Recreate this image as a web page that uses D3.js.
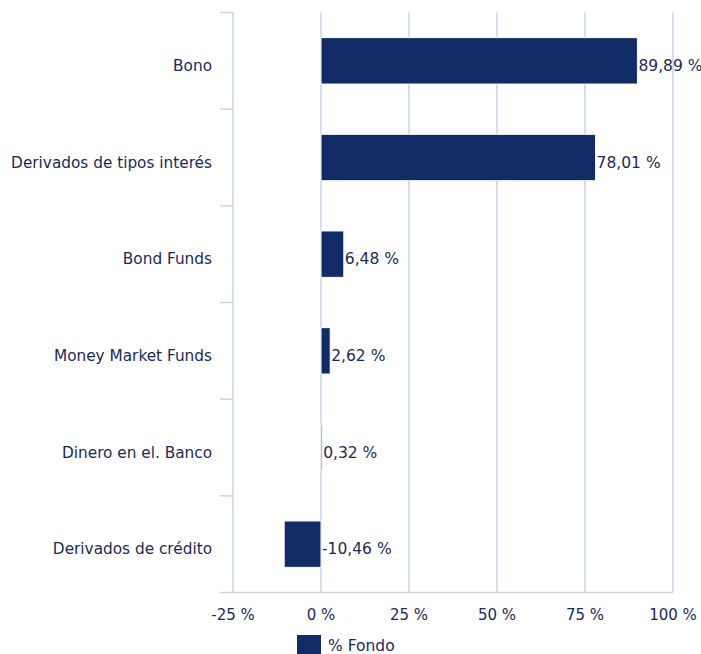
<!DOCTYPE html>
<html>
<head>
<meta charset="utf-8">
<script src="https://cdn.jsdelivr.net/npm/d3@7"></script>
<style>
  html, body { margin: 0; padding: 0; background: #fff; }
  svg { display: block; }
  text { font-family: "DejaVu Sans", Verdana, sans-serif; fill: #1b2a57; }
</style>
</head>
<body>
<svg id="chart" width="701" height="654"></svg>
<script>
/* ── Data ─────────────────────────────────────────────── */
const categories = ["Bono", "Derivados de tipos interés", "Bond Funds",
                    "Money Market Funds", "Dinero en el. Banco", "Derivados de crédito"];
const values = [89.89, 78.01, 6.48, 2.62, 0.32, -10.46];
const valueLabels = ["89,89 %", "78,01 %", "6,48 %", "2,62 %", "0,32 %", "-10,46 %"];
const xTicks = [-25, 0, 25, 50, 75, 100];
const seriesName = "% Fondo";

/* ── Layout ───────────────────────────────────────────── */
const BAR_COLOR  = "#102b66";
const GRID_COLOR = "#c9d5e8";
const plotL = 233, plotR = 673, plotT = 12.5, plotB = 592.5;

const svg = d3.select("#chart");

const x = d3.scaleLinear().domain([-25, 100]).range([plotL, plotR]);
const y = d3.scaleBand().domain(categories).range([plotT, plotB])
  .paddingInner(0.52).paddingOuter(0.26);
const band = d3.scaleBand().domain(categories).range([plotT, plotB]);

/* vertical gridlines */
svg.append("g").selectAll("line")
  .data(xTicks.filter(t => t !== -25))
  .enter().append("line")
    .attr("x1", d => x(d)).attr("x2", d => x(d))
    .attr("y1", plotT).attr("y2", plotB)
    .attr("stroke", GRID_COLOR).attr("stroke-width", 1.5);

/* left axis with category tick marks at band edges */
const edges = categories.map(c => band(c)).concat([plotB]);
svg.append("line")
  .attr("x1", plotL).attr("x2", plotL).attr("y1", plotT).attr("y2", plotB)
  .attr("stroke", GRID_COLOR).attr("stroke-width", 1.5);
svg.append("g").selectAll("line")
  .data(edges)
  .enter().append("line")
    .attr("x1", plotL - 13).attr("x2", plotL)
    .attr("y1", d => d).attr("y2", d => d)
    .attr("stroke", GRID_COLOR).attr("stroke-width", 1.5);
svg.append("line")
  .attr("x1", plotL).attr("x2", plotR).attr("y1", plotB).attr("y2", plotB)
  .attr("stroke", GRID_COLOR).attr("stroke-width", 1.5);

/* category labels */
svg.append("g").selectAll("text")
  .data(categories)
  .enter().append("text")
    .attr("x", 212)
    .attr("y", d => band(d) + band.bandwidth() / 2 + 10)
    .attr("text-anchor", "end")
    .style("font-size", "15.3px")
    .text(d => d);

/* x tick labels */
svg.append("g").selectAll("text")
  .data(xTicks)
  .enter().append("text")
    .attr("x", d => x(d))
    .attr("y", 620)
    .attr("text-anchor", "middle")
    .style("font-size", "15px")
    .text(d => d + " %");

/* bars */
svg.append("g").selectAll("rect")
  .data(values)
  .enter().append("rect")
    .attr("x", d => x(Math.min(0, d)))
    .attr("y", (d, i) => y(categories[i]))
    .attr("width", d => Math.abs(x(d) - x(0)))
    .attr("height", y.bandwidth())
    .attr("fill", BAR_COLOR)
    .attr("stroke", "#fff").attr("stroke-width", 1);

/* value labels */
svg.append("g").selectAll("text")
  .data(values)
  .enter().append("text")
    .attr("x", d => x(Math.max(0, d)) + 1)
    .attr("y", (d, i) => band(categories[i]) + band.bandwidth() / 2 + 10)
    .style("font-size", "15.5px")
    .text((d, i) => valueLabels[i]);

/* legend */
const legend = svg.append("g");
legend.append("rect")
  .attr("x", 297).attr("y", 635).attr("width", 24).attr("height", 19)
  .attr("fill", BAR_COLOR);
legend.append("text")
  .attr("x", 328).attr("y", 651)
  .style("font-size", "15.5px")
  .text(seriesName);
</script>
</body>
</html>
